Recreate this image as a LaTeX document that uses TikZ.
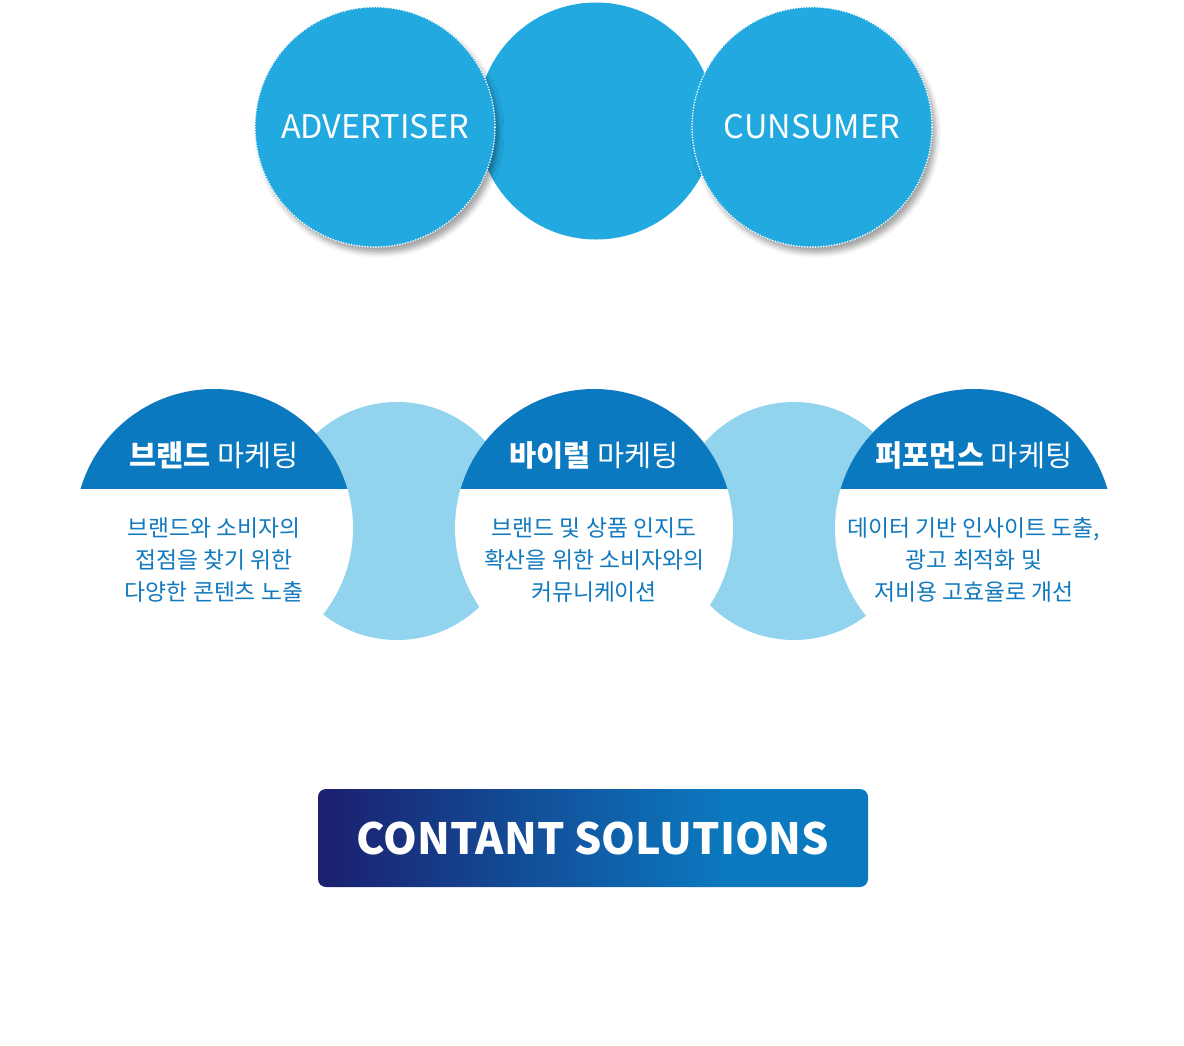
\documentclass[tikz,border=0pt]{standalone}
\usepackage{fontspec}
\setmainfont{Noto Sans CJK KR}
\usetikzlibrary{shadows.blur}
\definecolor{topblue}{HTML}{22A9E0}
\definecolor{capblue}{HTML}{0B79BF}
\definecolor{lightblue}{HTML}{92D3EE}
\definecolor{navy}{HTML}{1B1F6E}
\definecolor{txtblue}{HTML}{1279BE}
\pgfdeclarehorizontalshading{btnshade}{100bp}{color(0bp)=(navy); color(25bp)=(navy); color(45bp)=(navy!45!capblue); color(62bp)=(capblue); color(100bp)=(capblue)}
\tikzset{
  topcirc/.style={circle, fill=topblue, inner sep=0pt, minimum size=#1, text=white, font=\fontsize{32.5}{40}\selectfont},
  outercirc/.style={topcirc=240pt, draw=white, line width=1.8pt, dash pattern=on 0.01pt off 2.7pt, line cap=round,
     blur shadow={shadow xshift=4pt, shadow yshift=-6pt, shadow blur radius=5pt, shadow opacity=35}},
  lightc/.style={circle, fill=lightblue, inner sep=0pt, minimum size=238pt},
  disk/.style={circle, fill=white, inner sep=0pt, minimum size=278pt},
  captitle/.style={text=white, font=\fontsize{29.5}{34}\selectfont, inner sep=0pt},
  desc/.style={text=txtblue, align=center, font=\fontsize{22.8}{32}\selectfont, inner sep=0pt},
  btn/.style={shade, shading=btnshade, rounded corners=8pt, minimum width=550pt, minimum height=98pt, inner sep=0pt, text=white, font=\bfseries\fontsize{43}{52}\selectfont}
}
\begin{document}
\begin{tikzpicture}[x=1pt,y=-1pt]
\useasboundingbox (0,0) rectangle (1184,1045);
% top
\node[topcirc=237pt] (hub) at (596,121) {};
\node[outercirc] (adv) at (375,127) {ADVERTISER};
\node[outercirc] (con) at (812,127) {CUNSUMER};
% middle row
\node[lightc] (l1) at (397,521) {};
\node[lightc] (l2) at (794,521) {};
\node[disk] (d1) at (214,528) {};
\node[disk] (d2) at (594,528) {};
\node[disk] (d3) at (974,528) {};
\begin{scope}
\clip (0,0) rectangle (1184,488);
\foreach \d in {d1,d2,d3} \fill[capblue] (\d.center) circle[radius=139];
\end{scope}
\node[captitle] (t1) at (214,455) {\textbf{브랜드} 마케팅};
\node[captitle] (t2) at (594,455) {\textbf{바이럴} 마케팅};
\node[captitle] (t3) at (974,455) {\textbf{퍼포먼스} 마케팅};
\node[desc] (x1) at (214,560) {브랜드와 소비자의\\접점을 찾기 위한\\다양한 콘텐츠 노출};
\node[desc] (x2) at (594,560) {브랜드 및 상품 인지도\\확산을 위한 소비자와의\\커뮤니케이션};
\node[desc] (x3) at (974,560) {데이터 기반 인사이트 도출,\\광고 최적화 및\\저비용 고효율로 개선};
% button
\node[btn] (btn) at (593,838) {CONTANT SOLUTIONS};
\end{tikzpicture}
\end{document}
